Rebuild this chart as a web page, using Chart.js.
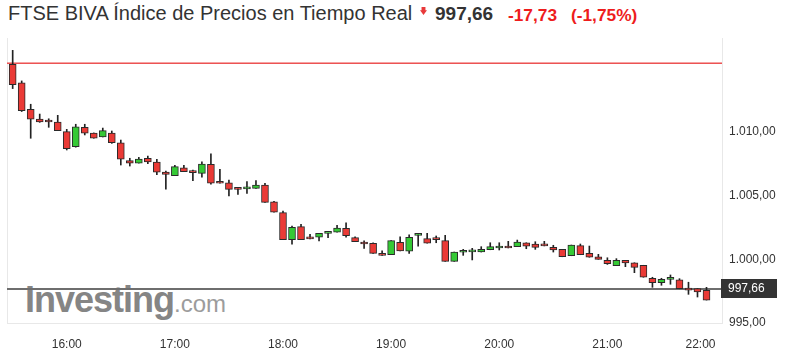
<!DOCTYPE html>
<html><head><meta charset="utf-8">
<script src="https://cdn.jsdelivr.net/npm/chart.js@4/dist/chart.umd.min.js"></script>
<style>
html,body{margin:0;padding:0;background:#fff;width:785px;height:361px;overflow:hidden;font-family:"Liberation Sans",Arial,sans-serif;}
#wrap{position:relative;width:785px;height:361px;}
#c{position:absolute;left:0;top:0;z-index:2}
.hd{position:absolute;top:3px;font-size:18.5px;line-height:22px;white-space:nowrap}
#t{left:8px;color:#333;font-size:20px;top:2px}
#arr{position:absolute;left:420px;top:7px;width:7px;height:8px;background:#e8393a;clip-path:polygon(22% 0,78% 0,78% 40%,100% 40%,50% 100%,0 40%,22% 40%)}
#p{left:435px;color:#333;font-weight:bold;font-size:19px}
#ch{left:508px;color:#ee1c1c;font-weight:bold;font-size:17.3px;top:4px}
#pc{left:571px;color:#ee1c1c;font-weight:bold;font-size:17.3px;top:4px}
#wm{position:absolute;left:25px;top:278px;z-index:1;white-space:nowrap;line-height:44px}
#wm .a{font-size:36px;font-weight:bold;color:#858585;letter-spacing:-1px}
#wm .b{font-size:24px;color:#9c9c9c}
</style></head><body>
<div id="wrap">
<div class="hd" id="t">FTSE BIVA Índice de Precios en Tiempo Real</div>
<div id="arr"></div>
<div class="hd" id="p">997,66</div>
<div class="hd" id="ch">-17,73</div>
<div class="hd" id="pc">(-1,75%)</div>
<div id="wm"><span class="a">Investing</span><span class="b">.com</span></div>
<canvas id="c" width="785" height="361"></canvas>
</div>
<script>
// 5-minute candles, 15:30 .. 21:55
const openV  = [1015.3,1013.86,1011.77,1011.0,1010.83,1010.78,1010.02,1008.84,1010.36,1009.9,
1009.6,1009.91,1009.15,1007.74,1007.55,1007.93,1007.64,1006.85,1006.56,1007.17,
1006.85,1006.75,1007.46,1006.1,1006.01,1005.57,1005.53,1005.57,1005.83,1004.52,
1003.66,1001.54,1002.56,1001.63,1001.73,1002.04,1002.12,1002.43,1001.7,1001.26,
1001.26,1000.33,1000.36,1001.33,1000.63,1001.88,1001.62,1001.57,1001.46,999.84,
1000.55,1000.58,1000.57,1000.75,1000.89,1000.91,1000.99,1001.3,1001.2,1001.1,
1000.94,1000.78,1000.28,1001.07,1000.47,1000.2,999.92,999.5,999.92,999.73,
999.53,998.51,998.16,998.43,998.38,997.6,997.7,997.57];
const highV  = [1016.4,1014.0,1012.17,1011.4,1011.03,1011.3,1010.2,1010.6,1010.6,1009.92,
1010.3,1010.07,1009.36,1007.93,1008.0,1008.1,1007.85,1006.93,1007.38,1007.38,
1007.0,1007.66,1008.27,1007.06,1006.22,1005.57,1006.1,1006.17,1005.96,1004.55,
1003.79,1002.61,1002.75,1001.96,1002.04,1002.06,1002.67,1002.87,1001.76,1001.44,
1001.3,1000.67,1001.46,1001.77,1001.93,1001.98,1002.04,1001.83,1001.88,1000.57,
1000.78,1000.86,1000.99,1001.3,1001.3,1001.41,1001.51,1001.3,1001.38,1001.41,
1001.1,1000.78,1001.12,1001.2,1001.04,1000.39,1000.12,1000.05,999.92,999.73,
999.53,998.59,998.51,998.77,998.48,998.2,997.7,997.8];
const lowV   = [1013.4,1011.6,1009.5,1010.75,1010.36,1010.1,1008.58,1008.8,1009.76,1009.5,
1009.6,1009.1,1007.4,1007.32,1007.55,1007.5,1006.65,1005.5,1006.56,1006.88,
1006.17,1006.44,1005.89,1005.97,1004.97,1005.1,1005.18,1005.57,1004.47,1003.69,
1001.54,1001.18,1001.54,1001.6,1001.44,1001.7,1002.12,1001.73,1001.38,1000.86,
1000.47,1000.31,1000.36,1000.65,1000.47,1001.04,1001.26,1001.3,999.84,999.84,
1000.31,999.95,1000.57,1000.75,1000.73,1000.89,1000.99,1000.83,1000.78,1001.05,
1000.57,1000.2,1000.28,1000.36,1000.16,1000.0,999.6,999.5,999.42,998.95,
998.59,997.8,997.96,998.04,997.69,997.25,997.04,996.8];
const closeV = [1013.7,1011.66,1010.99,1010.78,1010.78,1010.1,1008.68,1010.4,1009.9,1009.5,
1010.1,1009.15,1007.85,1007.54,1007.87,1007.64,1006.83,1006.67,1007.27,1006.88,
1006.8,1007.48,1005.97,1005.97,1005.49,1005.49,1005.56,1005.83,1004.47,1003.69,
1001.54,1002.51,1001.54,1001.6,1002.04,1002.06,1002.46,1001.85,1001.38,1001.2,
1000.47,1000.31,1001.46,1000.65,1001.73,1001.9,1001.26,1001.55,999.84,1000.57,
1000.6,1000.62,1000.78,1000.99,1000.92,1000.89,1001.36,1001.04,1000.94,1001.05,
1000.73,1000.2,1001.12,1000.36,1000.16,1000.0,999.65,999.92,999.71,999.37,
998.59,998.16,998.43,998.45,997.69,997.58,997.43,996.8];
const xTickIndex  = [6,18,30,42,54,66,78];
const xTickLabels = ['16:00','17:00','18:00','19:00','20:00','21:00','22:00'];
const yTicks = [995,1000,1005,1010];
const prevClose = 1015.39;
const lastPrice = 997.66;

function fmt(v){
  const s = v.toFixed(2).split('.');
  const i = s[0].replace(/\B(?=(\d{3})+(?!\d))/g,'.');
  return i + ',' + s[1];
}

const idx = openV.map((_,i)=>i);
const bodies = idx.map(i=>({x:i,y:[openV[i],closeV[i]]}));
const wicks  = idx.map(i=>({x:i,y:[lowV[i],highV[i]]}));
const bodyCol = idx.map(i=> closeV[i] >= openV[i] ? '#35c935' : '#ea3a36');

const linesPlugin = {
  id:'lines',
  beforeDatasetsDraw(chart){
    const {ctx, chartArea:a, scales:{y}} = chart;
    ctx.save();
    ctx.strokeStyle='#e8e8e8'; ctx.lineWidth=1;
    ctx.beginPath(); ctx.moveTo(a.left+0.5,a.top); ctx.lineTo(a.left+0.5,a.bottom); ctx.stroke();
    const yr = y.getPixelForValue(prevClose);
    ctx.fillStyle='rgb(236,80,80)';
    ctx.fillRect(a.left, yr-0.75, a.right-a.left, 1.5);
    const yg = y.getPixelForValue(lastPrice);
    ctx.strokeStyle='#6e6e6e'; ctx.lineWidth=2;
    ctx.beginPath(); ctx.moveTo(a.left,yg); ctx.lineTo(a.right,yg); ctx.stroke();
    ctx.restore();
  },
  afterDraw(chart){
    const {ctx, chartArea:a, scales:{y}} = chart;
    const yg = y.getPixelForValue(lastPrice);
    ctx.save();
    ctx.fillStyle='#333';
    ctx.fillRect(a.right-1, Math.round(yg)-10, 56, 19);
    ctx.fillStyle='#fff';
    ctx.font='12px "Liberation Sans", Arial, sans-serif';
    ctx.textBaseline='middle'; ctx.textAlign='left';
    ctx.fillText(fmt(lastPrice), a.right+6, Math.round(yg));
    ctx.restore();
  }
};

const xMin = -0.63, xMax = 78.72;
new Chart(document.getElementById('c'), {
  type:'bar',
  data:{datasets:[
    {data:bodies, backgroundColor:bodyCol, borderColor:'#2a2a2a', borderWidth:1, borderSkipped:false,
     barThickness:7, minBarLength:2, grouped:false, order:1},
    {data:wicks, backgroundColor:'#222', borderWidth:0, barThickness:1, grouped:false, order:2}
  ]},
  options:{
    responsive:false, animation:false,
    layout:{padding:{left:7,top:38,right:0,bottom:0}},
    plugins:{legend:{display:false}, tooltip:{enabled:false}},
    scales:{
      x:{type:'linear', min:xMin, max:xMax, offset:false,
         afterBuildTicks(s){ s.ticks = [{value:xMin}].concat(xTickIndex.map(v=>({value:v}))); },
         afterFit(s){ s.height = 38; s.paddingLeft = 0; s.paddingRight = 0; },
         grid:{display:false, drawTicks:false, offset:false},
         border:{display:true, color:'#e8e8e8'},
         ticks:{padding:14, maxRotation:0, autoSkip:false, color:'#333', align:'inner',
           font:{family:'"Liberation Sans", Arial, sans-serif', size:12},
           callback(v){ const k = xTickIndex.indexOf(v); return k>=0 ? xTickLabels[k] : ''; }}
      },
      y:{position:'right', min:995, max:1017.37,
         afterBuildTicks(s){ s.ticks = yTicks.map(v=>({value:v})); },
         afterFit(s){ s.width = 63; s.paddingTop = 0; s.paddingBottom = 0; },
         grid:{display:false, drawTicks:false},
         border:{display:true, color:'#e8e8e8'},
         ticks:{padding:7, color:'#333',
           font:{family:'"Liberation Sans", Arial, sans-serif', size:12},
           callback(v){ return fmt(v); }}
      }
    }
  },
  plugins:[linesPlugin]
});
</script>
</body></html>
